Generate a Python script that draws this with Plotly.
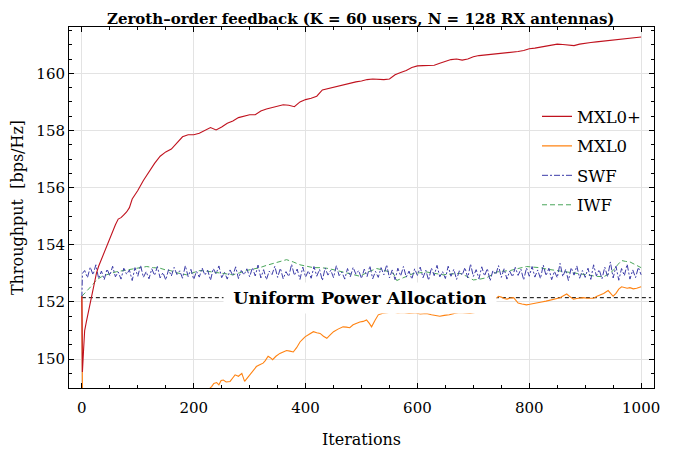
import plotly.graph_objects as go

# ---------------- data ----------------
mxl0p_x = [0, 1, 3, 5, 8, 10, 14, 18, 22, 26, 30, 35, 40, 45, 50, 55, 60, 65, 70, 75, 80, 85, 90, 95,
           100, 110, 120, 130, 140, 150, 160, 170, 180, 190, 200, 210, 220, 230, 240, 250, 260, 270,
           280, 290, 300, 310, 320, 330, 340, 350, 360, 370, 380, 390, 400, 410, 420, 430, 440, 450,
           460, 470, 480, 490, 500, 510, 520, 530, 540, 550, 560, 570, 580, 590, 600, 610, 620, 630,
           640, 650, 660, 670, 680, 690, 700, 710, 720, 730, 740, 750, 760, 770, 780, 790, 800, 810,
           820, 830, 840, 850, 860, 870, 880, 890, 900, 910, 920, 930, 940, 950, 960, 970, 980, 990, 1000]
mxl0p_y = [152.2, 149.55, 150.3, 151.0, 151.3, 151.5, 151.8, 152.3, 152.6, 153.0, 153.25, 153.5, 153.75,
           153.95, 154.25, 154.45, 154.7, 154.9, 154.95, 155.05, 155.15, 155.3, 155.6, 155.75, 155.9,
           156.25, 156.55, 156.85, 157.1, 157.25, 157.35, 157.55, 157.78, 157.85, 157.85, 157.9, 158.0,
           158.1, 158.02, 158.12, 158.25, 158.33, 158.45, 158.5, 158.55, 158.55, 158.68, 158.75, 158.8,
           158.85, 158.9, 158.88, 158.83, 159.0, 159.08, 159.13, 159.2, 159.42, 159.47, 159.52, 159.57,
           159.62, 159.66, 159.7, 159.73, 159.78, 159.8, 159.79, 159.78, 159.8, 159.95, 160.03, 160.1,
           160.2, 160.26, 160.27, 160.27, 160.28, 160.35, 160.42, 160.48, 160.5, 160.46, 160.5, 160.58,
           160.62, 160.64, 160.65, 160.67, 160.68, 160.7, 160.72, 160.76, 160.8, 160.86, 160.88, 160.92,
           160.95, 160.98, 161.02, 161.01, 160.98, 160.97, 161.02, 161.06, 161.08, 161.1, 161.12, 161.15,
           161.18, 161.19, 161.2, 161.22, 161.24, 161.27]

mxl0_x = [0, 1, 2, 50, 100, 150, 200, 225, 232, 236, 241, 245, 249, 253, 258, 265, 270, 274, 280, 286,
          291, 296, 303, 308, 312, 318, 324, 328, 333, 337, 341, 347, 354, 360, 366, 372, 378, 384, 390,
          395, 399, 405, 414, 420, 426, 432, 438, 444, 450, 458, 467, 473, 479, 485, 491, 497, 503, 509,
          514, 518, 524, 530, 537, 545, 555, 565, 574, 585, 595, 605, 616, 625, 632, 640, 648, 657, 666,
          676, 685, 694, 703, 712, 722, 732, 740, 745, 750, 755, 760, 766, 772, 776, 780, 787, 795, 801,
          807, 815, 822, 830, 837, 843, 849, 855, 861, 867, 873, 879, 885, 891, 897, 903, 909, 915, 921,
          927, 933, 941, 946, 950, 955, 960, 965, 970, 975, 980, 986, 992, 996, 1000]
mxl0_y = [152.2, 147.0, 146.0, 146.5, 147.3, 148.0, 148.6, 148.9, 149.04, 149.15, 149.18, 149.1, 149.25,
          149.27, 149.2, 149.22, 149.35, 149.45, 149.4, 149.5, 149.22, 149.35, 149.5, 149.62, 149.74,
          149.8, 149.86, 149.95, 150.1, 150.05, 149.98, 150.1, 150.2, 150.25, 150.3, 150.28, 150.25,
          150.4, 150.6, 150.7, 150.78, 150.85, 150.96, 150.92, 150.9, 150.8, 150.73, 150.85, 150.96,
          151.05, 151.13, 151.12, 151.1, 151.2, 151.25, 151.3, 151.32, 151.37, 151.25, 151.13, 151.35,
          151.55, 151.6, 151.63, 151.65, 151.62, 151.63, 151.6, 151.62, 151.58, 151.6, 151.55, 151.52,
          151.5, 151.53, 151.55, 151.6, 151.63, 151.62, 151.6, 151.63, 151.7, 151.85, 152.0, 152.15,
          152.2, 152.17, 152.12, 152.1, 152.14, 152.15, 152.05, 151.96, 151.93, 151.9, 151.92, 151.95,
          151.97, 152.0, 152.03, 152.06, 152.08, 152.1, 152.15, 152.22, 152.28, 152.18, 152.1, 152.12,
          152.14, 152.15, 152.13, 152.12, 152.13, 152.2, 152.25, 152.3, 152.4, 152.3, 152.2, 152.3,
          152.45, 152.53, 152.5, 152.48, 152.5, 152.46, 152.48, 152.5, 152.53]

swf_x = [0, 1] + list(range(5, 1001, 5))
swf_y = [152.15, 153.0,
         153.10, 152.85, 153.22, 152.95, 153.30, 152.82, 153.08, 152.78, 153.15, 152.92,
         153.25, 152.88, 153.05, 152.80, 153.18, 152.97, 153.12, 152.75, 153.20, 152.90,
         153.28, 152.86, 153.06, 152.81, 153.16, 152.93, 153.24, 152.84, 153.03, 152.77,
         153.13, 152.91, 153.21, 152.96, 153.09, 152.83, 153.27, 152.89, 153.14, 152.79,
         153.07, 152.87, 153.19, 152.94, 153.11, 152.76, 153.17, 152.98, 153.26, 152.85,
         153.04, 152.80, 153.12, 152.92, 153.23, 152.82, 153.10, 152.95, 153.16, 152.88,
         153.20, 152.91, 153.29, 152.84, 153.13, 152.78, 153.08, 152.96, 153.25, 152.86,
         153.18, 152.81, 153.06, 152.89, 153.32, 152.93, 153.15, 152.79, 153.22, 152.87,
         153.09, 152.83, 153.24, 152.90, 153.14, 152.75, 153.19, 152.94, 153.11, 152.85,
         153.27, 152.92, 153.05, 152.80, 153.17, 152.88, 153.21, 152.97, 153.10, 152.82,
         153.15, 152.89, 153.26, 152.81, 153.07, 152.86, 153.20, 152.95, 153.30, 152.84,
         153.12, 152.78, 153.18, 152.91, 153.24, 152.87, 153.08, 152.80, 153.16, 152.93,
         153.22, 152.85, 153.11, 152.76, 153.19, 152.92, 153.28, 152.88, 153.06, 152.82,
         153.25, 152.90, 153.14, 152.79, 153.09, 152.94, 153.20, 152.84, 153.33, 152.89,
         153.13, 152.81, 153.23, 152.91, 153.17, 152.74, 153.10, 152.96, 153.27, 152.86,
         153.16, 152.80, 153.08, 152.88, 153.21, 152.93, 153.15, 152.77, 153.19, 152.90,
         153.24, 152.87, 153.12, 152.82, 153.29, 152.92, 153.18, 152.78, 153.07, 152.85,
         153.35, 152.89, 153.14, 152.75, 153.20, 152.94, 153.26, 152.83, 153.10, 152.86,
         153.18, 152.79, 153.30, 152.91, 153.13, 152.81, 153.22, 152.88, 153.40, 152.84,
         153.25, 152.76, 153.17, 152.92, 153.32, 152.80, 153.12, 152.85, 153.21, 152.95]

iwf_x = [0, 5, 10, 14, 20, 26, 35, 44, 53, 62, 75, 90, 105, 116, 128, 140, 150, 158, 170, 180, 187, 195,
         203, 211, 222, 235, 250, 260, 270, 282, 294, 306, 318, 330, 342, 354, 366, 378, 390, 402, 414,
         426, 438, 452, 467, 482, 497, 512, 527, 542, 557, 563, 572, 582, 593, 604, 616, 631, 646, 661,
         676, 688, 700, 712, 724, 733, 742, 754, 766, 780, 795, 807, 819, 831, 843, 855, 867, 885, 903,
         918, 933, 942, 950, 958, 965, 972, 980, 988, 995, 1000]
iwf_y = [152.2, 152.3, 152.4, 152.48, 152.62, 152.77, 152.88, 152.95, 153.0, 153.06, 153.1, 153.15,
         153.2, 153.24, 153.2, 153.18, 153.12, 153.1, 153.02, 152.97, 152.95, 153.0, 153.05, 153.1,
         153.08, 153.05, 153.0, 152.97, 152.95, 153.02, 153.1, 153.15, 153.2, 153.28, 153.35, 153.42,
         153.48, 153.4, 153.3, 153.25, 153.2, 153.2, 153.18, 153.12, 153.05, 152.97, 152.9, 153.05,
         153.17, 153.1, 153.0, 152.75, 152.82, 152.92, 153.0, 153.02, 153.05, 153.0, 152.95, 152.98,
         153.0, 152.9, 152.77, 152.8, 152.85, 152.95, 153.05, 153.08, 153.1, 153.17, 153.24, 153.22,
         153.2, 153.15, 153.12, 153.08, 153.05, 153.0, 152.95, 152.9, 152.88, 152.98, 153.1, 153.3,
         153.45, 153.42, 153.4, 153.32, 153.24, 153.2]

upa_value = 152.15
upa_x = [0, 1018]
upa_label = "Uniform Power Allocation"

title_text = "Zeroth–order feedback (K = 60 users, N = 128 RX antennas)"
x_ticks = [0, 200, 400, 600, 800, 1000]
y_ticks = [150, 152, 154, 156, 158, 160]

FONT = "DejaVu Serif"

# ---------------- figure ----------------
fig = go.Figure()

fig.add_trace(go.Scatter(x=upa_x, y=[upa_value] * len(upa_x), mode="lines",
                         line=dict(color="black", width=1, dash="4px,3px"),
                         showlegend=False, hoverinfo="skip"))
fig.add_trace(go.Scatter(x=iwf_x, y=iwf_y, mode="lines", name="IWF", legendgroup="d", legendrank=4,
                         line=dict(color="#4aa65a", width=1, dash="5px,3px")))
fig.add_trace(go.Scatter(x=swf_x, y=swf_y, mode="lines", name="SWF", legendgroup="c", legendrank=3,
                         line=dict(color="#3c3ca8", width=1, dash="6px,2px,2px,2px")))
fig.add_trace(go.Scatter(x=mxl0_x, y=mxl0_y, mode="lines", name="MXL0", legendgroup="b", legendrank=2,
                         line=dict(color="#ff8312", width=1.1)))
fig.add_trace(go.Scatter(x=mxl0p_x, y=mxl0p_y, mode="lines", name="MXL0+", legendgroup="a", legendrank=1,
                         line=dict(color="#c0121e", width=1.1)))

fig.add_annotation(x=498, y=upa_value, xref="x", yref="y", text="<b>%s</b>" % upa_label,
                   showarrow=False, bgcolor="white", borderpad=5, width=262,
                   font=dict(family=FONT, size=17.5, color="black"))

axis_common = dict(showline=True, linecolor="black", linewidth=1, mirror="allticks",
                   ticks="inside", ticklen=5, tickcolor="black", showgrid=True,
                   gridcolor="#e3e3e3", gridwidth=1, zeroline=False, automargin=False,
                   tickfont=dict(family=FONT, size=15, color="black"))

fig.update_layout(
    width=668, height=441,
    margin=dict(l=61, r=22, t=19, b=61, autoexpand=False),
    paper_bgcolor="white", plot_bgcolor="white",
    font=dict(family=FONT),
    title=dict(text="<b>%s</b>" % title_text, x=0.528, xanchor="center", y=0.988, yanchor="top",
               font=dict(family=FONT, size=15, color="black")),
    xaxis=dict(range=[-23, 1023], tickvals=x_ticks, ticklabelstandoff=6,
               minor=dict(dtick=50, ticks="inside", ticklen=3, tickcolor="black", showgrid=False),
               title=dict(text="Iterations", font=dict(family=FONT, size=16, color="black"), standoff=20),
               **axis_common),
    yaxis=dict(range=[148.99, 161.62], tickvals=y_ticks,
               minor=dict(dtick=0.5, ticks="inside", ticklen=3, tickcolor="black", showgrid=False),
               title=dict(text="Throughput  [bps/Hz]", font=dict(family=FONT, size=16, color="black"),
                          standoff=11),
               **axis_common),
    legend=dict(x=0.80, y=0.80, xanchor="left", yanchor="top", traceorder="grouped",
                bgcolor="rgba(0,0,0,0)", font=dict(family=FONT, size=16.5, color="black"),
                tracegroupgap=5, itemwidth=30),
    showlegend=True,
)

fig.write_html("out.html")
